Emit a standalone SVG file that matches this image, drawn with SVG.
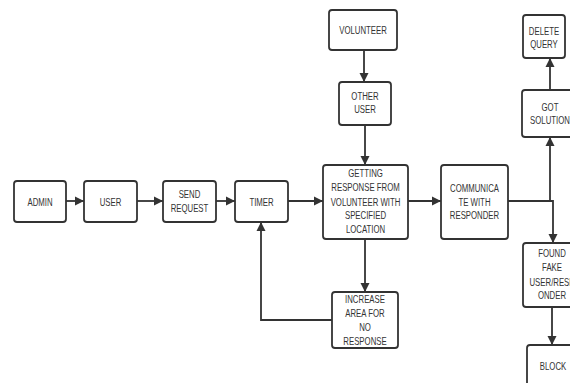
<svg xmlns="http://www.w3.org/2000/svg" width="570" height="383" viewBox="0 0 570 383">
<defs>
<marker id="ah" markerWidth="10" markerHeight="10" refX="9" refY="5" orient="auto" markerUnits="userSpaceOnUse">
<path d="M0,0.5 L9,5 L0,9.5 Z" fill="#333"/>
</marker>
<style>
.box{fill:#fff;stroke:#333;stroke-width:1.8}
.t{font-family:"Liberation Sans",Arial,sans-serif;font-size:11px;fill:#333;text-anchor:middle}
.c{fill:none;stroke:#333;stroke-width:1.8}
</style>
</defs>
<rect width="570" height="383" fill="#fff"/>
<g id="connectors">
<path class="c" d="M66,201 H84" marker-end="url(#ah)"/>
<path class="c" d="M137,201 H163" marker-end="url(#ah)"/>
<path class="c" d="M216,201 H235" marker-end="url(#ah)"/>
<path class="c" d="M288,201 H323" marker-end="url(#ah)"/>
<path class="c" d="M408,201 H441" marker-end="url(#ah)"/>
<path class="c" d="M364,50 V82" marker-end="url(#ah)"/>
<path class="c" d="M365,125 V165" marker-end="url(#ah)"/>
<path class="c" d="M365,239 V292" marker-end="url(#ah)"/>
<path class="c" d="M332,320 H261 V222" marker-end="url(#ah)"/>
<path class="c" d="M508,201 H553 V243" marker-end="url(#ah)"/>
<path class="c" d="M550,201 V137" marker-end="url(#ah)"/>
<path class="c" d="M550,90 V58" marker-end="url(#ah)"/>
<path class="c" d="M552,307 V345" marker-end="url(#ah)"/>
</g>
<g id="admin">
<rect class="box" x="14" y="181" width="52" height="41" rx="3"/>
<text class="t" transform="translate(40,205.5) scale(0.71,1)">ADMIN</text>
</g>
<g id="user">
<rect class="box" x="84" y="181" width="53" height="41" rx="3"/>
<text class="t" transform="translate(110.5,205.5) scale(0.71,1)">USER</text>
</g>
<g id="send-request">
<rect class="box" x="163" y="181" width="53" height="41" rx="3"/>
<text class="t" transform="translate(189.5,198) scale(0.71,1)">SEND</text>
<text class="t" transform="translate(189.5,212) scale(0.71,1)">REQUEST</text>
</g>
<g id="timer">
<rect class="box" x="235" y="181" width="53" height="41" rx="3"/>
<text class="t" transform="translate(261.5,205.5) scale(0.71,1)">TIMER</text>
</g>
<g id="volunteer">
<rect class="box" x="329" y="10" width="68" height="40" rx="3"/>
<text class="t" transform="translate(363,34) scale(0.71,1)">VOLUNTEER</text>
</g>
<g id="other-user">
<rect class="box" x="339" y="82" width="52" height="43" rx="3"/>
<text class="t" transform="translate(365,100) scale(0.71,1)">OTHER</text>
<text class="t" transform="translate(365,113) scale(0.71,1)">USER</text>
</g>
<g id="getting-response">
<rect class="box" x="323" y="165" width="85" height="74" rx="3"/>
<text class="t" transform="translate(365.5,177) scale(0.71,1)">GETTING</text>
<text class="t" transform="translate(365.5,191) scale(0.71,1)">RESPONSE FROM</text>
<text class="t" transform="translate(365.5,206) scale(0.71,1)">VOLUNTEER WITH</text>
<text class="t" transform="translate(365.5,219) scale(0.71,1)">SPECIFIED</text>
<text class="t" transform="translate(365.5,233) scale(0.71,1)">LOCATION</text>
</g>
<g id="communicate">
<rect class="box" x="441" y="165" width="67" height="74" rx="3"/>
<text class="t" transform="translate(474.5,192) scale(0.71,1)">COMMUNICA</text>
<text class="t" transform="translate(474.5,206) scale(0.71,1)">TE WITH</text>
<text class="t" transform="translate(474.5,219) scale(0.71,1)">RESPONDER</text>
</g>
<g id="increase-area">
<rect class="box" x="332" y="292" width="66" height="56" rx="3"/>
<text class="t" transform="translate(365,303) scale(0.71,1)">INCREASE</text>
<text class="t" transform="translate(365,317) scale(0.71,1)">AREA FOR</text>
<text class="t" transform="translate(365,331) scale(0.71,1)">NO</text>
<text class="t" transform="translate(365,345) scale(0.71,1)">RESPONSE</text>
</g>
<g id="delete-query">
<rect class="box" x="523" y="15" width="42" height="43" rx="3"/>
<text class="t" transform="translate(544,35) scale(0.71,1)">DELETE</text>
<text class="t" transform="translate(544,48) scale(0.71,1)">QUERY</text>
</g>
<g id="got-solution">
<rect class="box" x="522" y="90" width="58" height="47" rx="3"/>
<text class="t" transform="translate(550,111) scale(0.71,1)">GOT</text>
<text class="t" transform="translate(550,124) scale(0.71,1)">SOLUTION</text>
</g>
<g id="found-fake">
<rect class="box" x="523" y="243" width="60" height="64" rx="3"/>
<text class="t" transform="translate(552,257) scale(0.71,1)">FOUND</text>
<text class="t" transform="translate(552,271) scale(0.71,1)">FAKE</text>
<text class="t" transform="translate(552,286) scale(0.71,1)">USER/RESP</text>
<text class="t" transform="translate(552,299) scale(0.71,1)">ONDER</text>
</g>
<g id="block">
<rect class="box" x="527" y="345" width="56" height="56" rx="3"/>
<text class="t" transform="translate(553,370) scale(0.71,1)">BLOCK</text>
</g>
</svg>
